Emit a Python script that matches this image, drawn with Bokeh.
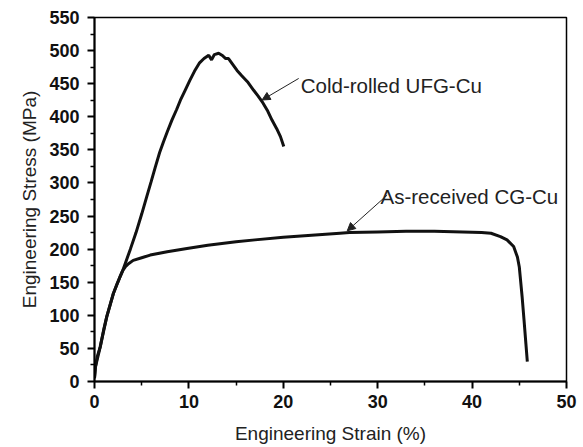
from bokeh.plotting import figure
from bokeh.models import Range1d, FixedTicker, Arrow, NormalHead, Label
from bokeh.embed import file_html
from bokeh.resources import INLINE

# Cold-rolled UFG-Cu curve (strain %, stress MPa)
ufg_strain = [0.0, 0.1, 0.3, 0.6, 1.0, 1.3, 1.7, 2.0, 2.4, 2.7, 3.0, 3.25, 3.8,
              4.4, 5.0, 5.55, 6.0, 6.44, 6.9, 7.3, 7.7, 8.2, 8.7, 9.1, 9.6,
              10.1, 10.6, 11.1, 11.6, 12.1, 12.4, 12.7, 13.15, 13.5, 13.9, 14.2,
              14.6, 15.1, 15.6, 16.2, 16.86, 17.3, 17.75, 18.3, 18.8, 19.3, 19.7, 20.05]
ufg_stress = [5, 22, 38, 52, 80, 98, 118, 133, 148, 158, 168, 178, 200,
              225, 253, 280, 302, 324, 346, 362, 377, 395, 411, 425, 440,
              455, 469, 481, 488, 493, 486, 494, 496, 493, 488, 488,
              480, 470, 462, 453, 440, 432, 423, 410, 395, 382, 370, 355]

# As-received CG-Cu curve
cg_strain = [0.0, 0.1, 0.6, 1.3, 2.0, 2.7, 3.0, 3.25, 3.6, 4.1, 5.0, 5.9, 7.7, 9.8,
             12.0, 15.0, 17.0, 20.0, 23.0, 26.0, 27.0, 30.0, 33.0, 36.0, 39.0, 41.0,
             42.0, 43.0, 43.7, 44.4, 44.8, 45.0, 45.1, 45.3, 45.5, 45.7, 45.85]
cg_stress = [5, 22, 52, 98, 133, 158, 168, 173, 178, 183, 187, 191, 196, 201,
             206, 211, 214, 218, 221, 224, 225, 226, 227, 227, 226, 225,
             224, 219, 214, 204, 188, 173, 158, 128, 93, 57, 30]

x_ticks = [0, 10, 20, 30, 40, 50]
y_ticks = [0, 50, 100, 150, 200, 250, 300, 350, 400, 450, 500, 550]
x_minor = [5, 15, 25, 35, 45]
y_minor = [25, 75, 125, 175, 225, 275, 325, 375, 425, 475, 525]

labels = ["Cold-rolled UFG-Cu", "As-received CG-Cu"]
label_pos = [(21.85, 447.5), (30.3, 280.0)]
arrow_tail = [(21.63, 457.9), (31.0, 281.6)]
arrow_tip = [(17.75, 425.3), (26.77, 227.6)]

p = figure(width=583, height=447, output_backend="svg", toolbar_location=None,
           x_range=Range1d(0, 50), y_range=Range1d(0, 550),
           min_border_left=94, min_border_right=17, min_border_top=17, min_border_bottom=66)
p.background_fill_color = "white"
p.border_fill_color = "white"
p.outline_line_color = "black"
p.outline_line_width = 1.5
p.xgrid.visible = False
p.ygrid.visible = False

p.xaxis.ticker = FixedTicker(ticks=x_ticks, minor_ticks=x_minor)
p.yaxis.ticker = FixedTicker(ticks=y_ticks, minor_ticks=y_minor)
p.xaxis.axis_label = "Engineering Strain (%)"
p.yaxis.axis_label = "Engineering Stress (MPa)"

for ax in (p.xaxis, p.yaxis):
    ax.axis_line_width = 2
    ax.axis_line_color = "black"
    ax.major_tick_line_width = 2
    ax.major_tick_line_color = "black"
    ax.minor_tick_line_width = 1.5
    ax.minor_tick_line_color = "black"
    ax.major_tick_out = 7
    ax.major_tick_in = 0
    ax.minor_tick_out = 4
    ax.minor_tick_in = 0
    ax.major_label_text_font = "Liberation Sans"
    ax.major_label_text_font_style = "bold"
    ax.major_label_text_font_size = "18px"
    ax.major_label_text_color = "#111111"
    ax.axis_label_text_font = "Liberation Sans"
    ax.axis_label_text_font_style = "normal"
    ax.axis_label_text_font_size = "19px"
    ax.axis_label_text_color = "#222222"

p.yaxis.major_label_standoff = 8
p.yaxis.axis_label_standoff = 6
p.xaxis.major_label_standoff = 6
p.xaxis.axis_label_standoff = 12

p.line(ufg_strain, ufg_stress, line_color="#111111", line_width=3)
p.line(cg_strain, cg_stress, line_color="#111111", line_width=3)

for (tx, ty), (hx, hy) in zip(arrow_tail, arrow_tip):
    p.add_layout(Arrow(x_start=tx, y_start=ty, x_end=hx, y_end=hy,
                       line_color="#222222", line_width=1,
                       end=NormalHead(size=8, fill_color="#222222", line_color="#222222", line_width=1)))

for txt, (lx, ly) in zip(labels, label_pos):
    p.add_layout(Label(x=lx, y=ly, text=txt, text_font="Liberation Sans",
                       text_font_size="20.5px", text_color="#222222",
                       text_baseline="alphabetic", text_align="left"))

open("out.html", "w").write(file_html(p, INLINE))
